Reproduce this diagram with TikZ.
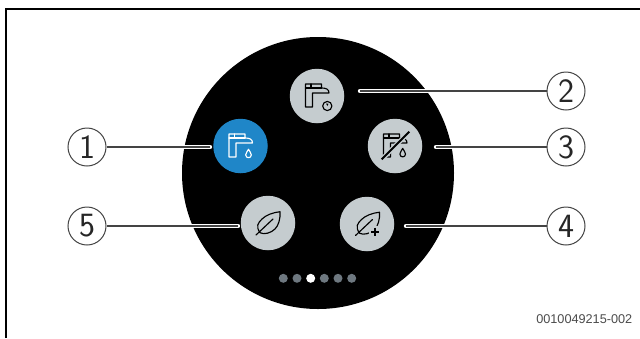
\documentclass[tikz,border=0pt]{standalone}
\usepackage{fontspec}
\newfontfamily\codefont{Liberation Sans}
\definecolor{diskgray}{HTML}{C5CCCF}
\definecolor{activeblue}{HTML}{1F86C8}
\definecolor{dotgray}{HTML}{6E7880}
\definecolor{linegray}{HTML}{444444}
\tikzset{
  x=1pt,y=-1pt,
  frameline/.style={line width=2.2pt,black},
  screen/.style={circle,fill=black,draw=none,minimum size=272pt,inner sep=0pt},
  iconbtn/.style={circle,fill=diskgray,draw=none,minimum size=54.5pt,inner sep=0pt},
  activebtn/.style={iconbtn,fill=activeblue},
  callout/.style={circle,draw=linegray,line width=1pt,fill=white,minimum size=38pt,inner sep=0pt,
    text=black!85,font=\sffamily\fontsize{34}{34}\selectfont},
  pagedot/.style={circle,fill=dotgray,draw=none,minimum size=9pt,inner sep=0pt},
  conn/.style={draw=linegray,line width=1.3pt,
    preaction={draw=white,line width=4.4pt,line cap=round,shorten >=4pt}},
  ico/.style={line width=1.15pt,line join=round,line cap=round},
  pics/faucet/.style={code={
    \draw[ico,#1] (-11.5,-12) -- (4.5,-12) -- (4.5,-8) .. controls (9,-8) and (12,-7) .. (12,-3)
      -- (-4.5,-3) -- (-4.5,11) -- (-11.5,11) -- cycle;
    \draw[ico,#1] (-11.5,-8) -- (4.5,-8);
    \draw[ico,#1] (-6,-12) -- (-6,-8);
  }},
  pics/droplet/.style={code={
    \draw[ico,#1] (0,-4.3) .. controls (-1,-2) and (-2.8,-0.5) .. (-2.8,1.4)
      .. controls (-2.8,3.2) and (-1.4,4.2) .. (0,4.2)
      .. controls (1.4,4.2) and (2.8,3.2) .. (2.8,1.4)
      .. controls (2.8,-0.5) and (1,-2) .. (0,-4.3) -- cycle;
  }},
  pics/leaf/.style={code={
    \draw[ico,black] (12,-11.3) .. controls (5,-10.5) and (-2,-8) .. (-6,-4)
      .. controls (-10,0) and (-12.5,3) .. (-8,9.7)
      .. controls (-4,12) and (3,10) .. (7,6)
      .. controls (10.5,2.5) and (12.5,-4) .. (12,-11.3) -- cycle;
    \draw[ico,black] (-12,12) -- (5,-4);
  }},
}
\begin{document}
\begin{tikzpicture}
\useasboundingbox (0,0) rectangle (640,338);
\fill[white] (0,0) rectangle (640,338);
\draw[frameline] (6,338) -- (6,9) -- (640,9);
\node[screen] (disk) at (318,173) {};
\node[activebtn] (b1) at (240.5,146) {};
\node[iconbtn] (b2) at (317,96) {};
\node[iconbtn] (b3) at (395,146) {};
\node[iconbtn] (b4) at (367,224) {};
\node[iconbtn] (b5) at (268,223) {};
% icons
\pic at (b1) {faucet=white};
\pic at ([shift={(8,7.5)}]b1.center) {droplet=white};
\pic at (b2) {faucet=black};
\draw[ico,black] ([shift={(10.3,10)}]b2.center) circle (4.6);
\fill[black] ([shift={(10.3,10)}]b2.center) -- ++(-1.2,-2.4) -- ++(2.4,0.2) -- cycle;
\pic at (b3) {faucet=black};
\draw[line width=4.2pt,diskgray] ([shift={(7.7,6.7)}]b3.center) circle (3.2);
\draw[line width=4.6pt,diskgray] ([shift={(-13.3,13.3)}]b3.center) -- ([shift={(14.3,-14.3)}]b3.center);
\pic at ([shift={(7.7,6.7)}]b3.center) {droplet=black};
\draw[line width=2pt,black] ([shift={(-13.3,13.3)}]b3.center) -- ([shift={(14.3,-14.3)}]b3.center);
\pic at (b5) {leaf};
\pic at ([shift={(0.5,-0.5)}]b4.center) {leaf};
\fill[diskgray] ([shift={(8,7.7)}]b4.center) circle (6.2);
\draw[line width=2.4pt,black] ([shift={(4,7.7)}]b4.center) -- ([shift={(12,7.7)}]b4.center);
\draw[line width=2.4pt,black] ([shift={(8,3.7)}]b4.center) -- ([shift={(8,11.7)}]b4.center);
% page dots
\node[pagedot] (d1) at (283.3,278.3) {};
\node[pagedot] (d2) at (297,278.3) {};
\node[pagedot,fill=white] (d3) at (310.7,278.3) {};
\node[pagedot] (d4) at (324.3,278.3) {};
\node[pagedot] (d5) at (338,278.3) {};
\node[pagedot] (d6) at (351.7,278.3) {};
% callouts
\node[callout] (c1) at (87,147) {1};
\node[callout] (c2) at (566,91) {2};
\node[callout] (c3) at (566,147) {3};
\node[callout] (c4) at (566,226) {4};
\node[callout] (c5) at (87,226) {5};
\coordinate (e1) at (210,147);
\coordinate (e2) at (360,91);
\coordinate (e3) at (436,147);
\coordinate (e4) at (406,226);
\coordinate (e5) at (238,226);
\draw[conn] (e1) -- (c1);
\draw[conn] (e2) -- (c2);
\draw[conn] (e3) -- (c3);
\draw[conn] (e4) -- (c4);
\draw[conn] (e5) -- (c5);
\node[anchor=base east,inner sep=0pt,text=black!70,font=\codefont\fontsize{12.7}{12.7}\selectfont] (code) at (632.5,323) {0010049215-002};
\end{tikzpicture}
\end{document}
